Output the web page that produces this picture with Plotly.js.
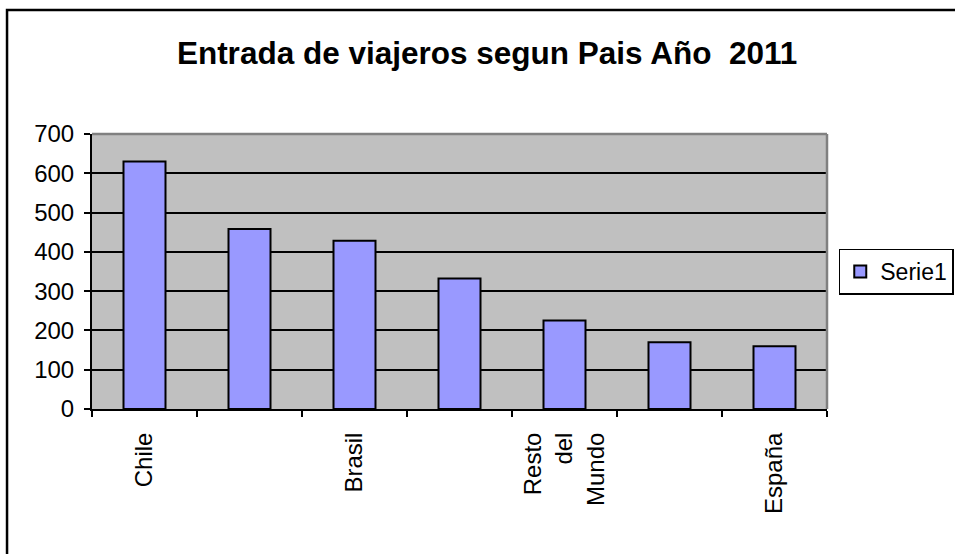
<!DOCTYPE html>
<html>
<head>
<meta charset="utf-8">
<script src="https://cdn.plot.ly/plotly-3.0.1.min.js"></script>
<style>
  html, body { margin: 0; padding: 0; background: #fff; }
  #plot { width: 955px; height: 554px; }
</style>
</head>
<body>
<div id="plot"></div>
<script>
// datos (solo se ven etiquetas en categorias alternas)
const posiciones = [0, 1, 2, 3, 4, 5, 6];
const viajeros = [630, 458, 428, 332, 225, 170, 160];
const etiquetasPos = [0, 2, 4, 6];
const etiquetas = ['Chile', 'Brasil', 'Resto<br>del<br>Mundo', 'España'];
const limites = [-0.5, 0.5, 1.5, 2.5, 3.5, 4.5, 5.5, 6.5];

const fuente = 'Arial, "Liberation Sans", sans-serif';

function dibujarGrafico() {
    const trace = {
        type: 'bar',
        x: posiciones,
        y: viajeros,
        name: 'Serie1',
        marker: { color: '#9999FF', line: { color: '#000', width: 2 } },
        hoverinfo: 'y'
    };

    const layout = {
        width: 955,
        height: 554,
        paper_bgcolor: '#fff',
        plot_bgcolor: '#C0C0C0',
        font: { family: fuente, size: 24, color: '#000' },
        margin: { l: 92, r: 128, t: 134, b: 145, autoexpand: false },
        bargap: 0.6,
        title: {
            text: '<b>Entrada de viajeros segun Pais Año\u00a0 2011</b>',
            font: { family: fuente, size: 31.5, color: '#000' },
            x: 0.51, xanchor: 'center',
            y: 0.905, yanchor: 'middle'
        },
        xaxis: {
            range: [-0.5, 6.5],
            tickmode: 'array',
            tickvals: etiquetasPos,
            ticktext: etiquetas,
            tickangle: -90,
            ticks: '',
            ticklabelstandoff: 12,
            showgrid: false,
            zeroline: false,
            showline: true,
            linecolor: '#000',
            linewidth: 2,
            minor: {
                tickmode: 'array',
                tickvals: limites,
                ticks: 'outside',
                ticklen: 6,
                tickwidth: 2,
                tickcolor: '#000',
                showgrid: false
            },
            fixedrange: true
        },
        yaxis: {
            range: [0, 700],
            dtick: 100,
            ticks: 'outside',
            ticklen: 6,
            tickwidth: 2,
            tickcolor: '#000',
            ticklabelstandoff: 5,
            showgrid: true,
            gridcolor: '#000',
            gridwidth: 2,
            zeroline: false,
            showline: true,
            linecolor: '#000',
            linewidth: 2,
            fixedrange: true
        },
        showlegend: true,
        legend: {
            x: 1.016, xanchor: 'left',
            y: 0.5, yanchor: 'middle',
            bgcolor: '#fff',
            bordercolor: '#000',
            borderwidth: 1.5,
            font: { family: fuente, size: 23, color: '#000' }
        },
        shapes: [
            // borde gris superior y derecho del area de trazado
            { type: 'line', xref: 'paper', yref: 'paper', x0: 0, x1: 1, y0: 1, y1: 1,
              line: { color: '#808080', width: 2.5 } },
            { type: 'line', xref: 'paper', yref: 'paper', x0: 1, x1: 1, y0: 0, y1: 1,
              line: { color: '#808080', width: 2.5 } },
            // marco del grafico
            { type: 'rect', xref: 'paper', yref: 'paper', x0: -0.1156, x1: 1.4, y0: -0.7, y1: 1.451,
              line: { color: '#000', width: 2.5 } }
        ]
    };

    Plotly.newPlot('plot', [trace], layout, { displayModeBar: false, staticPlot: true });
}

dibujarGrafico();
</script>
</body>
</html>
